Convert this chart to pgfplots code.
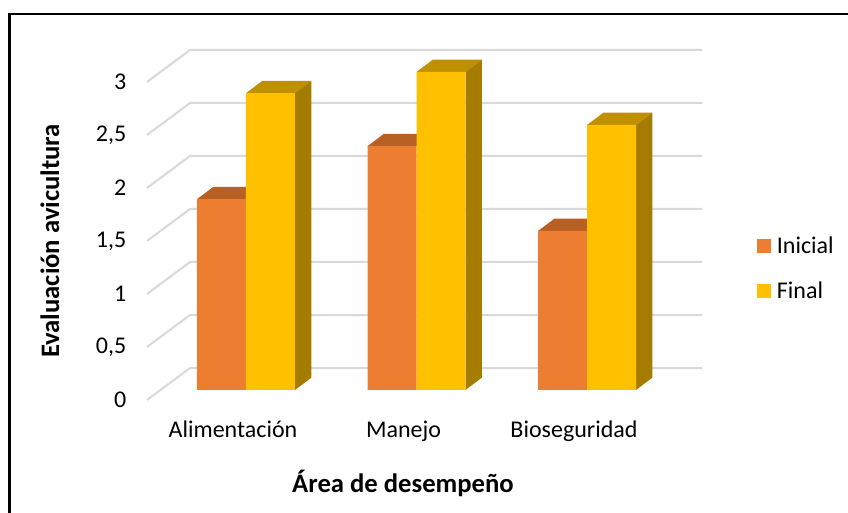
\documentclass[border=0pt]{standalone}
\usepackage{pgfplots}
\pgfplotsset{compat=1.18}
\usepackage{fontspec}
\setmainfont{Carlito}
\definecolor{cO}{HTML}{ED7D31}
\definecolor{cOt}{HTML}{B85F24}
\definecolor{cY}{HTML}{FFC000}
\definecolor{cYt}{HTML}{BF9000}
\definecolor{cYs}{HTML}{A67C00}
\definecolor{cG}{HTML}{D9D9D9}
\begin{document}
\begin{tikzpicture}[x=0.75pt,y=0.75pt]
\path[use as bounding box] (0,0) rectangle (848,513);
\draw[black,line width=2.1pt] (9.5,0) -- (9.5,499) -- (848,499);
\begin{axis}[
  at={(110.25pt,92.25pt)}, anchor=south west,
  width=416.25pt, height=255pt, scale only axis,
  xmin=0.4194, xmax=3.6745, ymin=0, ymax=3.2075,
  clip=false,
  axis line style={draw=none},
  tick style={draw=none},
  major tick length=0pt,
  xtick={1,2,3},
  xticklabels={Alimentación,Manejo,Bioseguridad},
  ytick={0,0.5,1,1.5,2,2.5,3},
  yticklabels={0,{0,5},1,{1,5},2,{2,5},3},
  tick label style={font=\fontsize{18}{20}\selectfont},
  yticklabel style={yshift=-7.5pt,anchor=east,xshift=-12pt},
  xticklabel style={anchor=base,yshift=-36pt,xshift=-9.75pt},
  every axis x label/.style={at={(axis cs:1.921,-0.877)},anchor=center},
  every axis y label/.style={at={(axis cs:-0.1496,1.405)},anchor=center,rotate=90},
  xlabel={\fontsize{20}{22}\selectfont\bfseries Área de desempeño},
  ylabel={\fontsize{20}{22}\selectfont\bfseries Evaluación avicultura},
  legend style={at={(axis cs:3.997,1.472)},anchor=north west,draw=none,fill=none,
     font=\fontsize{18}{20}\selectfont,row sep=15.75pt,inner sep=0pt},
  legend cell align=left,
  legend image code/.code={\fill[#1] (0pt,-5.25pt) rectangle (10.5pt,5.25pt);\path (12.75pt,0pt);},
]
% back wall grid, with depth lines
\addplot[cG,line width=1.5pt,forget plot,unbounded coords=jump] coordinates {
 (0.4194,-0.0943)(0.6716,0.2075)(3.6745,0.2075)(3.6745,nan)
 (0.4194,0.4057)(0.6716,0.7075)(3.6745,0.7075)(3.6745,nan)
 (0.4194,0.9057)(0.6716,1.2075)(3.6745,1.2075)(3.6745,nan)
 (0.4194,1.4057)(0.6716,1.7075)(3.6745,1.7075)(3.6745,nan)
 (0.4194,1.9057)(0.6716,2.2075)(3.6745,2.2075)(3.6745,nan)
 (0.4194,2.4057)(0.6716,2.7075)(3.6745,2.7075)(3.6745,nan)
 (0.4194,2.9057)(0.6716,3.2075)(3.6745,3.2075)
};
% tops of the Inicial bars
\addplot[fill=cOt,draw=none,forget plot] coordinates {(0.7126,1.8)(1,1.8)(1.0956,1.916)(0.8082,1.916)} -- cycle;
\addplot[fill=cOt,draw=none,forget plot] coordinates {(1.7126,2.3)(2,2.3)(2.0956,2.416)(1.8082,2.416)} -- cycle;
\addplot[fill=cOt,draw=none,forget plot] coordinates {(2.7126,1.5)(3,1.5)(3.0956,1.616)(2.8082,1.616)} -- cycle;
% fronts of the Inicial bars
\addplot[ybar,bar width=36.75pt,bar shift=-18.375pt,fill=cO,draw=none] coordinates {(1,1.8)(2,2.3)(3,1.5)};
% tops and sides of the Final bars
\addplot[fill=cYt,draw=none,forget plot] coordinates {(1,2.8)(1.2874,2.8)(1.383,2.916)(1.0956,2.916)} -- cycle;
\addplot[fill=cYt,draw=none,forget plot] coordinates {(2,3)(2.2874,3)(2.383,3.116)(2.0956,3.116)} -- cycle;
\addplot[fill=cYt,draw=none,forget plot] coordinates {(3,2.5)(3.2874,2.5)(3.383,2.616)(3.0956,2.616)} -- cycle;
\addplot[fill=cYs,draw=none,forget plot] coordinates {(1.2874,0)(1.2874,2.8)(1.383,2.916)(1.383,0.116)} -- cycle;
\addplot[fill=cYs,draw=none,forget plot] coordinates {(2.2874,0)(2.2874,3)(2.383,3.116)(2.383,0.116)} -- cycle;
\addplot[fill=cYs,draw=none,forget plot] coordinates {(3.2874,0)(3.2874,2.5)(3.383,2.616)(3.383,0.116)} -- cycle;
% fronts of the Final bars
\addplot[ybar,bar width=36.75pt,bar shift=18.375pt,fill=cY,draw=none] coordinates {(1,2.8)(2,3)(3,2.5)};
\legend{Inicial,Final}
\end{axis}
\end{tikzpicture}
\end{document}
